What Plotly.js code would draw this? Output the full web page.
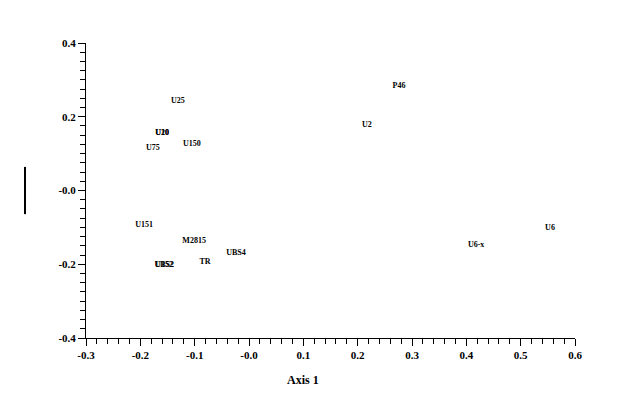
<!DOCTYPE html>
<html>
<head>
<meta charset="utf-8">
<script src="https://cdn.plot.ly/plotly-3.0.1.min.js"></script>
<style>html,body{margin:0;padding:0;background:#fff;}#chart{width:624px;height:413px;}</style>
</head>
<body>
<div id="chart"></div>
<script>
const labels = ["U25","U20","U10","U75","U150","P46","U2","U151","M2815","UBS4","TR","U152","UBS2","U6-x","U6"];
const axis1 = [-0.131,-0.160,-0.160,-0.177,-0.105,0.276,0.217,-0.193,-0.101,-0.024,-0.081,-0.156,-0.156,0.418,0.554];
const axis2 = [0.243,0.156,0.156,0.115,0.126,0.283,0.178,-0.094,-0.137,-0.170,-0.194,-0.202,-0.202,-0.148,-0.102];
const xTickVals = [-0.3,-0.2,-0.1,0,0.1,0.2,0.3,0.4,0.5,0.6];
const xTickText = ["-0.3","-0.2","-0.1","-0.0","0.1","0.2","0.3","0.4","0.5","0.6"];
const yTickVals = [-0.4,-0.2,0,0.2,0.4];
const yTickText = ["-0.4","-0.2","-0.0","0.2","0.4"];
const xTitle = "Axis 1";

const font = {family: "Liberation Serif, Times New Roman, serif", color: "#000"};
const trace = {
  x: axis1, y: axis2, text: labels, mode: "text", type: "scatter",
  textposition: "middle center",
  texttemplate: "<b>%{text}</b>",
  textfont: {family: font.family, size: 8, color: "#000"},
  hoverinfo: "none", cliponaxis: false
};
const layout = {
  width: 624, height: 413,
  margin: {l: 86, r: 49, t: 43, b: 75},
  paper_bgcolor: "#fff", plot_bgcolor: "#fff",
  showlegend: false,
  xaxis: {
    range: [-0.3, 0.6], tickvals: xTickVals, ticktext: xTickText,
    showgrid: false, zeroline: false, showline: true, linecolor: "#000", linewidth: 1,
    ticks: "outside", ticklen: 7, tickcolor: "#000",
    minor: {dtick: 0.02, ticks: "outside", ticklen: 5, tickcolor: "#000", showgrid: false},
    tickfont: {family: font.family, size: 11, color: "#000", weight: "bold"}
  },
  yaxis: {
    range: [-0.4, 0.4], tickvals: yTickVals, ticktext: yTickText,
    showgrid: false, zeroline: false, showline: true, linecolor: "#000", linewidth: 1,
    ticks: "outside", ticklen: 7, tickcolor: "#000",
    minor: {dtick: 0.025, ticks: "outside", ticklen: 5, tickcolor: "#000", showgrid: false},
    tickfont: {family: font.family, size: 11, color: "#000", weight: "bold"}
  },
  annotations: [{
    text: "<b>" + xTitle + "</b>", xref: "paper", yref: "paper",
    x: 0.444, y: -0.142, xanchor: "center", yanchor: "middle",
    showarrow: false, font: {family: font.family, size: 12, color: "#000"}
  }],
  shapes: [{
    type: "line", xref: "paper", yref: "paper",
    x0: -0.1247, x1: -0.1247, y0: 0.42, y1: 0.58,
    line: {color: "#000", width: 2}
  }]
};
Plotly.newPlot("chart", [trace], layout, {staticPlot: true, displayModeBar: false});
</script>
</body>
</html>
